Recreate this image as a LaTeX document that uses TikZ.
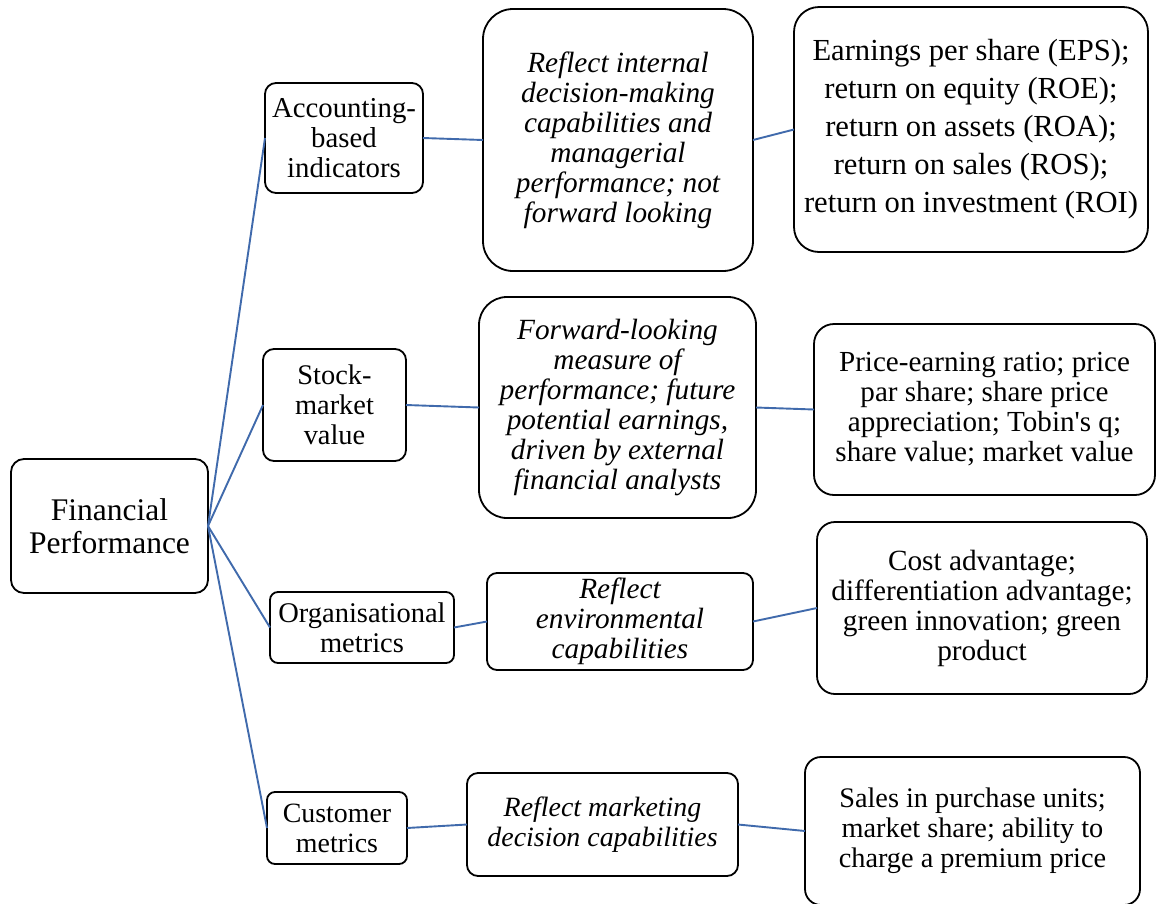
\documentclass[tikz,border=0pt]{standalone}
\usepackage{fontspec}
\setmainfont{Liberation Serif}
\definecolor{linkblue}{RGB}{64,106,172}
\tikzset{
  box/.style={draw=black, line width=1.8pt, fill=white, align=center, inner sep=0pt, outer sep=0pt},
  conn/.style={draw=linkblue, line width=1.9pt},
}
\newcommand{\fs}[2]{\fontsize{#1}{#2}\selectfont}
\begin{document}
\begin{tikzpicture}[x=1pt,y=-1pt]
\useasboundingbox (0,0) rectangle (1157,903);
\fill[white] (0,0) rectangle (1157,903);
\clip (0,0) rectangle (1157,903);

% level 0
\node[box, rounded corners=13pt, minimum width=197pt, minimum height=134pt, font=\fs{31.5}{33}] (fp) at (109.5,526) {Financial\\Performance};

% level 1
\node[box, rounded corners=11pt, minimum width=158pt, minimum height=110pt, font=\fs{28.8}{30}] (acc) at (344,138) {Accounting-\\based\\indicators};
\node[box, rounded corners=11pt, minimum width=143pt, minimum height=112pt, font=\fs{28.4}{30}] (stock) at (334.5,405) {Stock-\\market\\value};
\node[box, rounded corners=8pt, minimum width=184pt, minimum height=71pt, font=\fs{28.5}{30}] (org) at (362,627.5) {Organisational\\metrics};
\node[box, rounded corners=8pt, minimum width=140pt, minimum height=72pt, font=\fs{27.9}{30}] (cust) at (337,828) {Customer\\metrics};

% level 2
\node[box, rounded corners=30pt, minimum width=270pt, minimum height=262pt, font=\fs{29.3}{30}\itshape] (rint) at (618,140) {Reflect internal\\decision-making\\capabilities and\\managerial\\performance; not\\forward looking};
\node[box, rounded corners=28pt, minimum width=277pt, minimum height=221pt, font=\fs{29.3}{30}\itshape] (fwd) at (617.5,407.5) {Forward-looking\\measure of\\performance; future\\potential earnings,\\driven by external\\financial analysts};
\node[box, rounded corners=10pt, minimum width=266pt, minimum height=97pt, font=\fs{29.3}{30}\itshape] (renv) at (620,621.5) {Reflect\\environmental\\capabilities};
\node[box, rounded corners=11pt, minimum width=271pt, minimum height=103pt, font=\fs{27.9}{30}\itshape] (rmkt) at (602.5,824.5) {Reflect marketing\\decision capabilities};

% level 3
\node[box, rounded corners=25pt, minimum width=354pt, minimum height=245pt, font=\fs{30.6}{38}] (eps) at (971,129.5) {Earnings per share (EPS);\\return on equity (ROE);\\return on assets (ROA);\\return on sales (ROS);\\return on investment (ROI)};
\node[box, rounded corners=20pt, minimum width=341pt, minimum height=171pt, font=\fs{29.1}{30}] (price) at (984.5,409.5) {Price-earning ratio; price\\par share; share price\\appreciation; Tobin\textquotesingle s q;\\share value; market value};
\node[box, rounded corners=18pt, minimum width=330pt, minimum height=172pt, font=\fs{29.3}{30}] (cost) at (982,608) {Cost advantage;\\differentiation advantage;\\green innovation; green\\product};
\node[box, rounded corners=16pt, minimum width=335pt, minimum height=148pt, font=\fs{28.3}{30}] (sales) at (972.5,831) {Sales in purchase units;\\market share; ability to\\charge a premium price};

% connectors
\draw[conn] (fp.east) -- (acc.west);
\draw[conn] (fp.east) -- (stock.west);
\draw[conn] (fp.east) -- (org.west);
\draw[conn] (fp.east) -- (cust.west);
\draw[conn] (acc.east) -- (rint.west);
\draw[conn] (stock.east) -- (fwd.west);
\draw[conn] (org.east) -- (renv.west);
\draw[conn] (cust.east) -- (rmkt.west);
\draw[conn] (rint.east) -- (eps.west);
\draw[conn] (fwd.east) -- (price.west);
\draw[conn] (renv.east) -- (cost.west);
\draw[conn] (rmkt.east) -- (sales.west);
\end{tikzpicture}
\end{document}
